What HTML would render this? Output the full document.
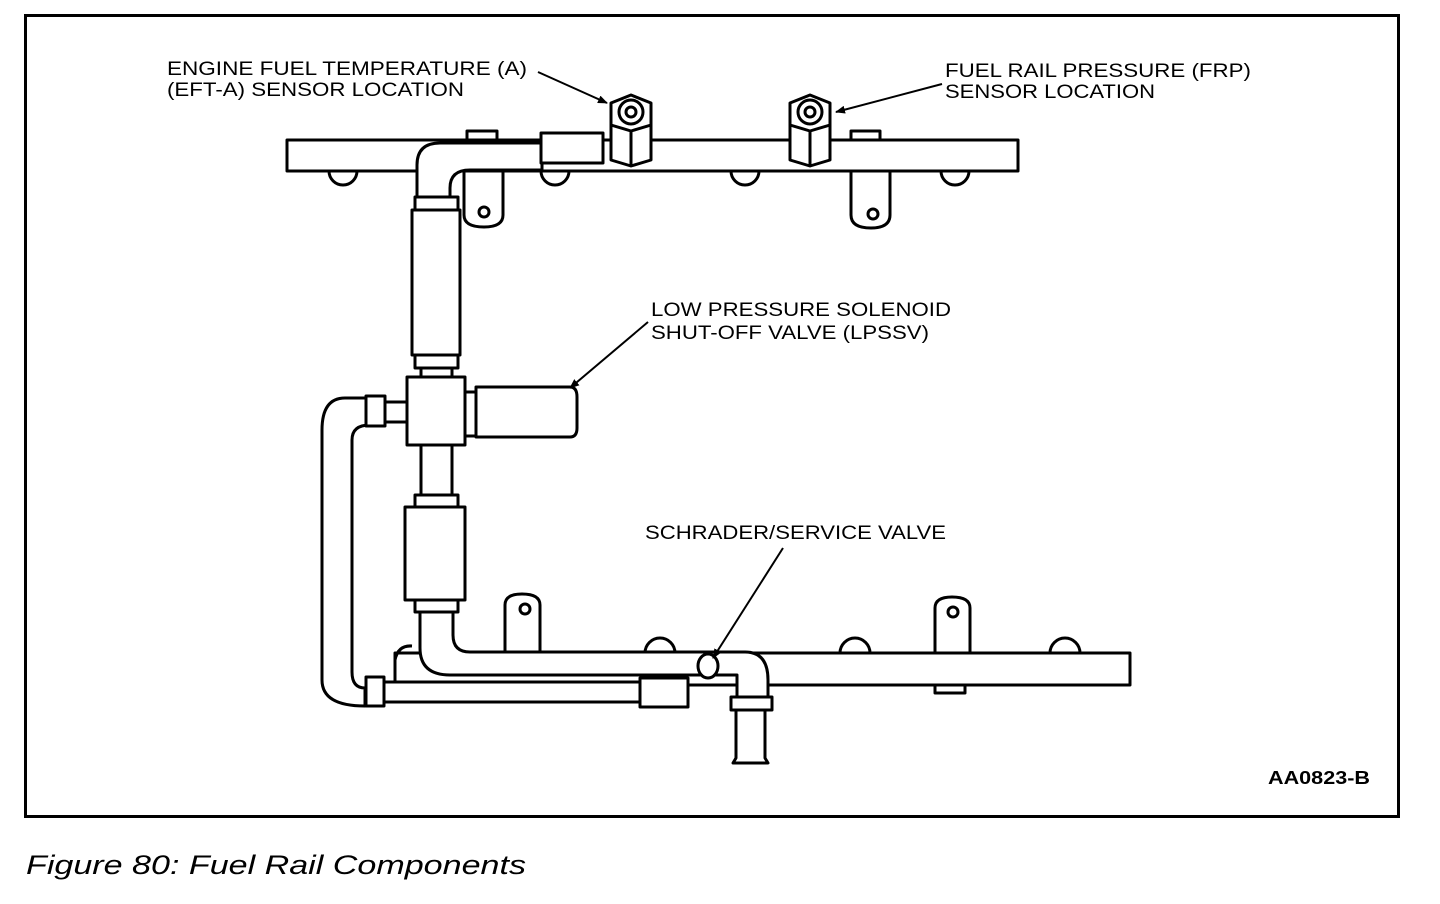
<!DOCTYPE html>
<html><head><meta charset="utf-8"><style>
html,body{margin:0;padding:0;background:#fff;}
svg{display:block;}
text{font-family:"Liberation Sans",Arial,sans-serif;fill:#000;}
</style></head><body>
<svg width="1440" height="904" viewBox="0 0 1440 904" xmlns="http://www.w3.org/2000/svg">
<defs><marker id="ar" markerWidth="10" markerHeight="8" refX="9" refY="4" orient="auto" markerUnits="userSpaceOnUse"><path d="M0,0 L10,4 L0,8 Z" fill="#000"/></marker></defs>
<rect x="25.5" y="15.5" width="1373" height="801" fill="none" stroke="#000" stroke-width="3"/>
<g fill="#fff" stroke="#000" stroke-width="3" stroke-linejoin="round">
<path d="M329,171 A14,14 0 0 0 357,171"/>
<path d="M541,171 A14,14 0 0 0 569,171"/>
<path d="M731,171 A14,14 0 0 0 759,171"/>
<path d="M941,171 A14,14 0 0 0 969,171"/>
<path d="M464,165 V215 Q464,227 484,227 Q503,227 503,215 V165"/>
<path d="M851,165 V215 Q851,228 871,228 Q890,228 890,215 V165"/>
<rect x="467" y="131" width="30" height="9"/>
<rect x="851" y="131" width="29" height="9"/>
<rect x="287" y="140" width="731" height="31"/>
<path d="M417,205 V165 Q417,143 440,143 H542 V170 H470 Q450,170 450,188 V205 Z"/>
<rect x="541" y="133" width="62" height="30"/>
<path d="M611,103 L631,95 L651,103 V160 L631,166 L611,160 Z"/>
<path d="M611,125 L631,131 L651,125 M631,131 V166" fill="none"/>
<circle cx="631" cy="112" r="12"/><circle cx="631" cy="112" r="5"/>
<path d="M790,103 L810,95 L830,103 V160 L810,166 L790,160 Z"/>
<path d="M790,125 L810,131 L830,125 M810,131 V166" fill="none"/>
<circle cx="810" cy="112" r="12"/><circle cx="810" cy="112" r="5"/>
<circle cx="484" cy="212" r="5"/><circle cx="873" cy="214" r="5"/>
<path d="M645,653 A15,15 0 0 1 675,653"/>
<path d="M840,653 A15,15 0 0 1 870,653"/>
<path d="M1050,653 A15,15 0 0 1 1080,653"/>
<path d="M505,655 V605 Q505,594 522,594 Q540,594 540,605 V655"/>
<path d="M935,655 V608 Q935,597 952,597 Q970,597 970,608 V655"/>
<circle cx="525" cy="609" r="5"/><circle cx="953" cy="612" r="5"/>
<rect x="935" y="684" width="30" height="9"/>
<path d="M370,398 H345 Q322,398 322,430 V680 Q322,706 365,706 V688 Q352,688 352,672 V440 Q352,425 370,425 Z"/>
<rect x="395" y="653" width="735" height="32"/>
<path d="M395,660 Q398,645 412,646" fill="none"/>
<rect x="384" y="682" width="258" height="20"/>
<rect x="640" y="678" width="48" height="29"/>
<rect x="366" y="677" width="18" height="29"/>
<rect x="415" y="197" width="43" height="13"/>
<rect x="412" y="210" width="48" height="145"/>
<rect x="415" y="355" width="43" height="13"/>
<rect x="421" y="368" width="31" height="10"/>
<rect x="421" y="445" width="31" height="50"/>
<rect x="385" y="402" width="24" height="20"/>
<rect x="366" y="396" width="19" height="30"/>
<rect x="407" y="377" width="58" height="68"/>
<rect x="465" y="392" width="11" height="44"/>
<path d="M476,387 H570 Q577,387 577,397 V428 Q577,437 570,437 H476 Z"/>
<rect x="415" y="495" width="43" height="12"/>
<rect x="405" y="507" width="60" height="93"/>
<rect x="415" y="600" width="43" height="12"/>
<path d="M420,612 V648 Q420,675 450,675 H737 V698 H768 V680 Q768,652 745,652 H470 Q453,652 453,635 V612 Z"/>
<ellipse cx="708" cy="666" rx="10" ry="12"/>
<rect x="731" y="697" width="41" height="13"/>
<path d="M736,710 H765 V758 L768,763 H733 L736,758 Z"/>
</g>
<g stroke="#000" stroke-width="2" fill="none">
<line x1="538" y1="72" x2="607" y2="103" marker-end="url(#ar)"/>
<line x1="942" y1="84" x2="836" y2="112" marker-end="url(#ar)"/>
<line x1="648" y1="322" x2="570" y2="388" marker-end="url(#ar)"/>
<line x1="783" y1="548" x2="713" y2="658" marker-end="url(#ar)"/>
</g>
<g font-size="19">
<text x="167" y="75" textLength="360" lengthAdjust="spacingAndGlyphs">ENGINE FUEL TEMPERATURE (A)</text>
<text x="167" y="96" textLength="297" lengthAdjust="spacingAndGlyphs">(EFT-A) SENSOR LOCATION</text>
<text x="945" y="77" textLength="306" lengthAdjust="spacingAndGlyphs">FUEL RAIL PRESSURE (FRP)</text>
<text x="945" y="98" textLength="210" lengthAdjust="spacingAndGlyphs">SENSOR LOCATION</text>
<text x="651" y="316" textLength="300" lengthAdjust="spacingAndGlyphs">LOW PRESSURE SOLENOID</text>
<text x="651" y="339" textLength="278" lengthAdjust="spacingAndGlyphs">SHUT-OFF VALVE (LPSSV)</text>
<text x="645" y="539" textLength="301" lengthAdjust="spacingAndGlyphs">SCHRADER/SERVICE VALVE</text>
</g>
<text x="1268" y="784" font-size="18" font-weight="bold" textLength="102" lengthAdjust="spacingAndGlyphs">AA0823-B</text>
<text x="26" y="874" font-size="27" font-style="italic" textLength="500" lengthAdjust="spacingAndGlyphs">Figure 80: Fuel Rail Components</text>
</svg>
</body></html>
